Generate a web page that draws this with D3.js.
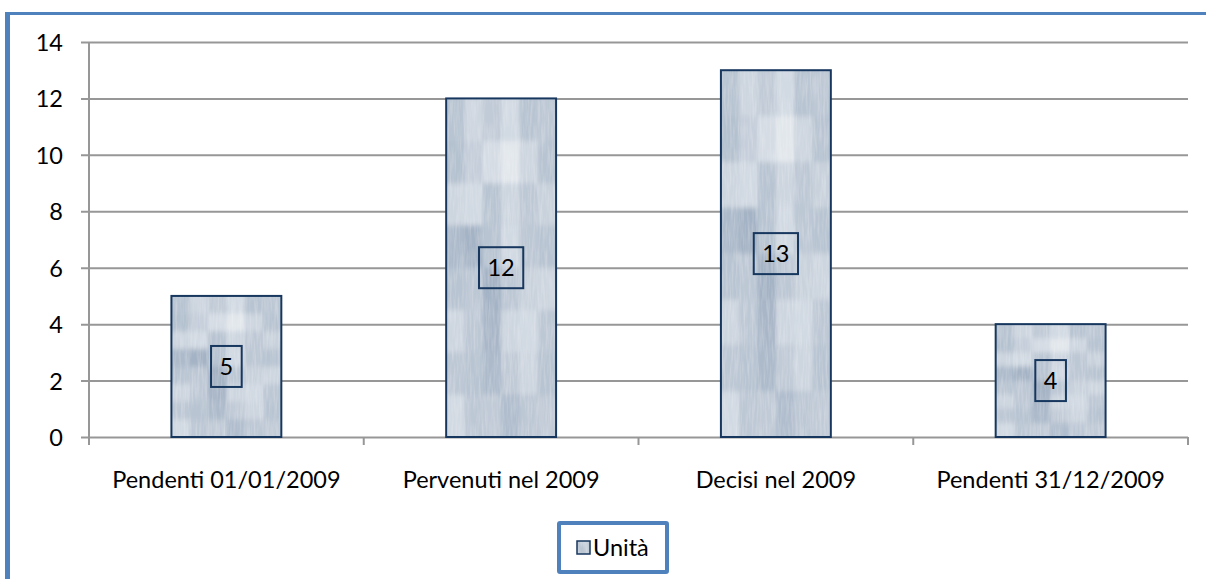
<!DOCTYPE html>
<html>
<head>
<meta charset="utf-8">
<script src="https://cdn.jsdelivr.net/npm/d3@7"></script>
<style>
  html, body { margin: 0; padding: 0; background: #fff; }
  svg { display: block; }
  text { font-family: Lato, "Open Sans", sans-serif; fill: #000; }
</style>
</head>
<body>
<svg id="chart" width="1206" height="579"></svg>
<script>
// Chart data
const categories = ["Pendenti 01/01/2009", "Pervenuti nel 2009", "Decisi nel 2009", "Pendenti 31/12/2009"];
const values = [5, 12, 13, 4];
const seriesName = "Unità";
const yTicks = [0, 2, 4, 6, 8, 10, 12, 14];

// Mottled fill: lightness of each cell in a 6 x 8 grid stretched over a bar (0 = dark, 1 = light)
const TEXTURE = [
  [0.45, 0.70, 0.55, 0.75, 0.45, 0.50],
  [0.40, 0.60, 0.80, 0.95, 0.70, 0.45],
  [0.70, 0.75, 0.45, 0.70, 0.50, 0.65],
  [0.30, 0.20, 0.45, 0.75, 0.50, 0.45],
  [0.45, 0.50, 0.20, 0.50, 0.65, 0.70],
  [0.70, 0.50, 0.25, 0.70, 0.75, 0.50],
  [0.50, 0.45, 0.30, 0.55, 0.70, 0.45],
  [0.75, 0.50, 0.55, 0.35, 0.50, 0.55]
];

const FONT = "23.5px";
const svg = d3.select("#chart");
const shade = d3.interpolateRgb("#93a5ba", "#e6eaef");

const defs = svg.append("defs");
// soft blocks plus fine vertical grain
const f = defs.append("filter").attr("id", "grain")
  .attr("x", "-5%").attr("y", "-5%").attr("width", "110%").attr("height", "110%");
f.append("feGaussianBlur").attr("in", "SourceGraphic").attr("stdDeviation", "1.8 2.5").attr("result", "soft");
f.append("feTurbulence").attr("type", "fractalNoise").attr("baseFrequency", "0.5 0.04")
  .attr("numOctaves", 2).attr("seed", 7).attr("result", "noise");
f.append("feColorMatrix").attr("in", "noise").attr("type", "matrix")
  .attr("values", "0 0 0 0 1  0 0 0 0 1  0 0 0 0 1  0.45 0 0 0 -0.18").attr("result", "streaks");
f.append("feComposite").attr("in", "streaks").attr("in2", "soft").attr("operator", "atop");

const plot = { left: 89, right: 1188, top: 42, bottom: 437 };

const y = d3.scaleLinear().domain([0, 14]).range([plot.bottom, plot.top]);
const x = d3.scaleBand().domain(categories).range([plot.left, plot.right])
  .paddingInner(0.6).paddingOuter(0.3);
const slot = d3.scaleBand().domain(categories).range([plot.left, plot.right]).padding(0);

// Outer frame
svg.append("rect").attr("x", 5).attr("y", 12).attr("width", 1201).attr("height", 3).attr("fill", "#4f81bd");
svg.append("rect").attr("x", 5).attr("y", 12).attr("width", 5).attr("height", 567).attr("fill", "#4f81bd");

// Gridlines and y axis
const yAxis = d3.axisLeft(y).tickValues(yTicks).tickSize(-(plot.right - plot.left)).tickPadding(0).tickFormat("");
const gy = svg.append("g").attr("transform", `translate(${plot.left},0)`).call(yAxis);
gy.select(".domain").remove();
gy.selectAll(".tick line").attr("stroke", "#979797").attr("stroke-width", 2).attr("x1", -8);

gy.selectAll(".tick").append("text")
  .attr("x", -26).attr("dy", "0.36em").attr("text-anchor", "end")
  .style("font-size", FONT).text(d => d);

// vertical axis line
svg.append("line").attr("x1", plot.left).attr("x2", plot.left)
  .attr("y1", plot.top).attr("y2", plot.bottom + 8).attr("stroke", "#979797").attr("stroke-width", 2);

// category ticks at slot boundaries
const bounds = categories.map(c => slot(c)).concat([plot.right]);
svg.append("g").selectAll("line").data(bounds).join("line")
  .attr("x1", d => d).attr("x2", d => d)
  .attr("y1", plot.bottom).attr("y2", plot.bottom + 8)
  .attr("stroke", "#979797").attr("stroke-width", 2);

// category labels
svg.append("g").selectAll("text").data(categories).join("text")
  .attr("x", d => slot(d) + slot.bandwidth() / 2).attr("y", 488)
  .attr("text-anchor", "middle").style("font-size", FONT).text(d => d);

// textured block grid filling a rectangle
function fillTexture(g, bx, by, bw, bh, id) {
  const cp = defs.append("clipPath").attr("id", id);
  cp.append("rect").attr("x", bx).attr("y", by).attr("width", bw).attr("height", bh);
  const rows = TEXTURE.length, cols = TEXTURE[0].length;
  const cw = bw / cols, ch = bh / rows;
  const tg = g.append("g").attr("clip-path", `url(#${id})`).append("g").attr("filter", "url(#grain)");
  tg.append("rect").attr("x", bx - 10).attr("y", by - 10).attr("width", bw + 20).attr("height", bh + 20).attr("fill", shade(0.5));
  TEXTURE.forEach((row, r) => row.forEach((v, c) => {
    tg.append("rect")
      .attr("x", bx + c * cw - (c === 0 ? 10 : 0)).attr("y", by + r * ch - (r === 0 ? 10 : 0))
      .attr("width", cw + (c === 0 || c === cols - 1 ? 10 : 0) + 0.5)
      .attr("height", ch + (r === 0 || r === rows - 1 ? 10 : 0) + 0.5)
      .attr("fill", shade(v));
  }));
}

// bars
const bars = svg.append("g");
categories.forEach((c, i) => {
  const bx = x(c), bw = x.bandwidth(), by = y(values[i]), bh = y(0) - y(values[i]);
  const g = bars.append("g");
  fillTexture(g, bx, by, bw, bh, "clip" + i);
  g.append("rect").attr("x", bx).attr("y", by).attr("width", bw).attr("height", bh)
    .attr("fill", "none").attr("stroke", "#17375e").attr("stroke-width", 2);
});

// value labels in boxes at the centre of each bar
const labels = svg.append("g");
categories.forEach((c, i) => {
  const cx = x(c) + x.bandwidth() / 2;
  const cy = (y(values[i]) + y(0)) / 2;
  const g = labels.append("g");
  const t = g.append("text").attr("x", cx).attr("y", cy).attr("dy", "0.36em")
    .attr("text-anchor", "middle").style("font-size", FONT).text(values[i]);
  const w = t.node().getComputedTextLength() + 17;
  g.insert("rect", "text").attr("x", cx - w / 2).attr("y", cy - 20.5)
    .attr("width", w).attr("height", 41)
    .attr("fill", "none").attr("stroke", "#17375e").attr("stroke-width", 2);
});

// legend
const lg = svg.append("g");
lg.append("rect").attr("x", 559).attr("y", 523).attr("width", 108).attr("height", 49)
  .attr("fill", "#fff").attr("stroke", "#4f81bd").attr("stroke-width", 4).attr("rx", 1);
fillTexture(lg, 577, 541, 13, 13, "clipLegend");
lg.append("rect").attr("x", 577).attr("y", 541).attr("width", 13).attr("height", 13)
  .attr("fill", "none").attr("stroke", "#17375e").attr("stroke-width", 1.5);
lg.append("text").attr("x", 593).attr("y", 556).style("font-size", FONT).text(seriesName);
</script>
</body>
</html>
